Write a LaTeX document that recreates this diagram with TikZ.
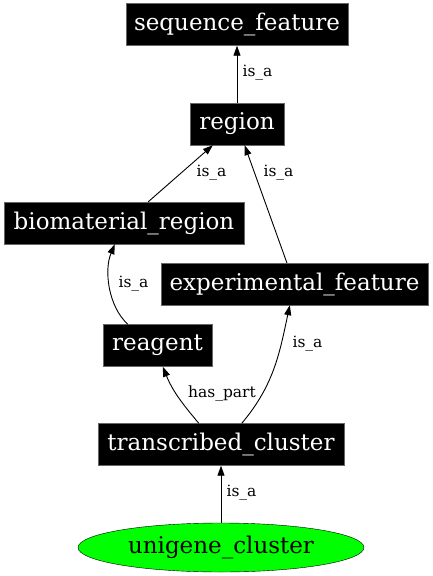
\documentclass[tikz,border=0pt]{standalone}
\usepackage{fontspec}
\setmainfont{DejaVu Serif}
\usepackage{tikz}
\usetikzlibrary{arrows.meta,shapes.geometric}
\definecolor{leafgreen}{RGB}{0,255,0}

\begin{document}
\begin{tikzpicture}[x=1pt, y=-1pt,
  term/.style={fill=black, draw=black!60, text=white, font=\fontsize{23}{27}\selectfont, minimum height=42pt, inner xsep=4pt, inner ysep=0pt},
  leaf/.style={ellipse, fill=leafgreen, draw=black, font=\fontsize{23}{27}\selectfont, minimum width=286pt, minimum height=49pt, inner sep=0pt},
  rel/.style={-{Triangle[length=10pt,width=7pt]}, line width=0.9pt},
  lbl/.style={font=\fontsize{15.5}{18}\selectfont, inner sep=0pt}]
\useasboundingbox (0,0) rectangle (433,576);
% terms
\node[term, minimum width=222pt] (seqfeat) at (237,24.5) {sequence\_feature};
\node[term, minimum width=94pt] (region) at (237,124) {region};
\node[term, minimum width=240pt] (biomat) at (124,223) {biomaterial\_region};
\node[term, minimum width=267pt] (expfeat) at (294.5,284) {experimental\_feature};
\node[term, minimum width=109pt] (reagent) at (157.5,345.5) {reagent};
\node[term, minimum width=246pt] (transcl) at (221,444.5) {transcribed\_cluster};
\node[leaf] (unigene) at (221,547.5) {unigene\_cluster};
% relations
\draw[rel] (region) -- (seqfeat);
\draw[rel] (biomat) -- (region);
\draw[rel] (expfeat) -- (region);
\draw[rel] ([xshift=25pt]reagent.north west) .. controls (108,306) and (104,270) .. ([xshift=111pt]biomat.south west);
\draw[rel] ([xshift=101pt]transcl.north west) to[out=130, in=-68] ([xshift=60pt]reagent.south west);
\draw[rel] ([xshift=144pt]transcl.north west) to[out=50, in=-102] ([xshift=129pt]expfeat.south west);
\draw[rel] (unigene) -- (transcl);
% labels
\node[lbl] (l1) at (257.5,73) {is\_a};
\node[lbl] (l2) at (211.5,173) {is\_a};
\node[lbl] (l3) at (278.5,173) {is\_a};
\node[lbl] (l4) at (133.5,284) {is\_a};
\node[lbl] (l5) at (222,393) {has\_part};
\node[lbl] (l6) at (307.5,344) {is\_a};
\node[lbl] (l7) at (241.5,493) {is\_a};
\end{tikzpicture}
\end{document}
